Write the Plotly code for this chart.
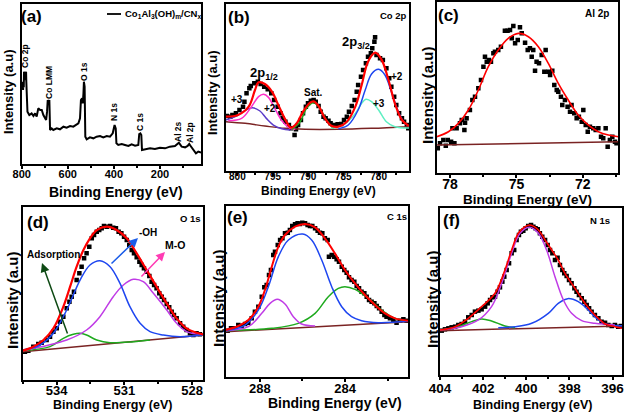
import plotly.graph_objects as go

W, H = 625, 414
FONT = "Liberation Sans"

# ---------------- (a) survey spectrum ----------------
survey_be = [800, 797, 796, 794, 793, 791, 790, 787, 784, 783, 781, 780, 778, 775, 767, 757, 749, 742, 735, 728,
             720, 713, 706, 699, 694, 690, 687, 683, 680, 677, 670, 663, 648, 634, 619, 605, 590, 576, 564, 554,
             547, 543, 538, 535, 532, 530, 527, 524, 518, 504, 489, 475, 460, 446, 431, 417, 405, 399, 397, 392,
             389, 381, 366, 352, 337, 323, 308, 294, 290, 285, 281, 278, 265, 243, 222, 200, 178, 157, 135, 125,
             118, 106, 91, 80, 73, 67, 55, 44, 34, 22]
survey_int = [237, 227, 247, 222, 242, 230, 277, 252, 267, 252, 277, 247, 172, 157, 147, 152, 144, 152, 142, 167,
              162, 162, 147, 137, 132, 157, 192, 182, 192, 102, 107, 102, 107, 104, 112, 109, 114, 112, 117, 122,
              137, 192, 197, 182, 212, 247, 232, 82, 74, 80, 77, 82, 84, 80, 84, 82, 92, 112, 117, 107,
              62, 57, 60, 57, 54, 59, 55, 57, 90, 92, 87, 42, 44, 47, 45, 49, 47, 52, 54, 60,
              64, 52, 50, 54, 60, 54, 44, 32, 37, 34]
survey_labels = ["Co 2p", "Co LMM", "O 1s", "N 1s", "C 1s", "Al 2s", "Al 2p"]

# ---------------- (b) Co 2p ----------------
co_pts_be = [801.5, 801.0, 800.7, 800.2, 799.7, 799.2, 799.0, 798.7, 798.3, 798.1, 797.6, 797.1, 796.7, 796.2,
             795.7, 795.2, 794.8, 794.3, 793.9, 793.6, 793.2, 792.7, 792.4, 791.9, 791.7, 791.4, 791.0, 790.7,
             790.3, 790.0, 789.6, 789.2, 788.9, 788.5, 788.2, 787.8, 787.5, 787.1, 786.8, 786.3, 785.8, 785.3,
             784.9, 784.5, 784.2, 783.8, 783.4, 783.1, 782.9, 782.5, 782.2, 781.8, 781.5, 781.1, 780.9, 780.6,
             780.5, 780.3, 779.8, 779.4, 778.9, 778.5, 778.2, 777.8, 777.5, 777.1, 776.7, 776.4, 776.0, 775.8]
co_pts_int = [164, 162, 167, 172, 182, 192, 207, 232, 247, 254, 262, 267, 260, 252, 244, 232, 212, 192, 172, 157,
              147, 137, 127, 107, 124, 137, 152, 172, 192, 202, 210, 212, 207, 194, 177, 162, 157, 150, 142, 137,
              139, 140, 152, 162, 177, 194, 212, 237, 257, 282, 302, 322, 342, 352, 367, 387, 400, 347, 337, 332,
              307, 277, 252, 222, 197, 172, 157, 147, 137, 127]
co_fit_be = [801.65, 799.9, 798.4, 797.5, 797.0, 796.1, 795.1, 794.2, 793.3, 792.4, 791.6, 790.7, 789.7, 789.2,
             788.5, 787.6, 786.7, 785.7, 784.5, 783.3, 782.4, 781.5, 780.5, 779.6, 778.6, 777.7, 776.7, 775.7]
co_fit_int = [162, 167, 192, 242, 265, 260, 237, 197, 157, 129, 142, 177, 204, 208, 194, 157, 135, 132, 147, 192,
              257, 327, 354, 334, 272, 202, 152, 134]
co_32p_be = [785.7, 784.3, 782.9, 781.9, 781.0, 780.0, 779.1, 778.2, 777.2, 776.3, 775.7]
co_32p_int = [126, 137, 182, 242, 290, 304, 287, 237, 177, 142, 134]
co_33p_be = [786.7, 784.8, 783.3, 782.4, 781.8, 781.0, 780.0, 778.9, 777.7, 775.7]
co_33p_int = [127, 140, 172, 202, 214, 207, 182, 147, 132, 128]
co_12p_be = [801.3, 799.4, 798.0, 797.0, 796.3, 795.6, 794.7, 793.7, 792.5, 791.8]
co_12p_int = [150, 157, 192, 222, 229, 220, 187, 150, 127, 124]
co_13p_be = [801.65, 800.3, 799.2, 797.9, 796.8, 795.9, 794.9, 793.7, 792.5]
co_13p_int = [152, 162, 177, 189, 179, 157, 137, 126, 122]
co_sat_be = [792.3, 791.1, 790.2, 789.2, 788.3, 787.4, 786.4]
co_sat_int = [124, 147, 187, 204, 187, 152, 126]
co_bg_be = [801.65, 798.9, 796.1, 793.3, 790.4, 785.7, 781.0, 775.7]
co_bg_int = [147, 142, 134, 127, 124, 124, 127, 132]

# ---------------- (c) Al 2p ----------------
al_pts_be = [78.55, 78.45, 78.30, 78.19, 78.10, 77.95, 77.80, 77.89, 77.70, 77.55, 77.47, 77.32, 77.35, 77.25,
             77.10, 76.99, 76.87, 76.72, 76.60, 76.49, 76.42, 76.34, 76.24, 76.15, 76.04, 75.97, 75.82, 75.70,
             75.52, 75.40, 75.29, 75.21, 75.14, 75.06, 74.94, 74.84, 74.76, 74.61, 74.49, 74.39, 74.31, 74.24,
             74.16, 74.09, 73.98, 73.86, 73.74, 73.68, 73.56, 73.48, 73.38, 73.29, 73.18, 73.11, 72.99, 72.93,
             72.81, 72.69, 72.58, 72.51, 72.39, 72.28, 72.18, 72.05, 71.98, 71.87, 71.78, 71.68, 71.53, 71.42,
             71.30, 71.18, 71.08, 70.97, 70.88, 70.78, 70.67, 70.55, 70.48]
al_pts_int = [73, 88, 98, 81, 98, 93, 88, 133, 133, 148, 158, 150, 128, 163, 188, 218, 228, 253, 278, 318,
              348, 333, 338, 333, 358, 363, 368, 378, 426, 426, 428, 403, 440, 388, 398, 436, 418, 390, 368, 373,
              348, 368, 306, 333, 328, 353, 303, 368, 303, 293, 306, 263, 248, 243, 228, 203, 218, 198, 183, 203,
              178, 163, 168, 153, 188, 143, 123, 138, 133, 128, 133, 108, 103, 133, 78, 98, 108, 93, 88]
al_fit_be = [78.60, 78.07, 77.62, 77.17, 76.72, 76.27, 75.82, 75.37, 74.91, 74.46, 74.01, 73.56, 73.11, 72.66,
             72.21, 71.75, 71.30, 70.85, 70.40]
al_fit_int = [108, 123, 148, 188, 248, 318, 368, 403, 418, 408, 378, 328, 268, 218, 173, 143, 123, 113, 108]
al_bg_be = [78.6, 70.4]
al_bg_int = [83, 93]

# ---------------- (d) O 1s ----------------
o_pts_be = [535.40, 535.25, 535.03, 534.81, 534.66, 534.44, 534.29, 534.14, 533.99, 533.85, 533.70, 533.55,
            533.43, 533.33, 533.23, 533.11, 532.99, 532.89, 532.78, 532.67, 532.55, 532.44, 532.34, 532.22,
            532.11, 532.00, 531.90, 531.78, 531.63, 531.49, 531.37, 531.25, 531.13, 531.01, 530.89, 530.78,
            530.67, 530.57, 530.45, 530.33, 530.23, 530.13, 530.01, 529.89, 529.79, 529.68, 529.57, 529.45,
            529.34, 529.24, 529.12, 529.01, 528.90, 528.80, 528.68, 528.53, 528.39, 528.24, 528.09, 527.94,
            527.80, 527.65]
o_pts_int = [85, 88, 100, 108, 112, 120, 130, 145, 155, 175, 190, 215, 235, 250, 265, 300, 320, 340, 365, 380,
             400, 425, 435, 445, 450, 455, 462, 460, 462, 457, 455, 445, 440, 430, 420, 405, 390, 380, 368, 355,
             345, 335, 325, 312, 295, 285, 275, 260, 250, 240, 228, 218, 205, 195, 185, 170, 160, 150, 140, 135,
             140, 137]
o_fit_be = [535.5, 535.03, 534.58, 534.14, 533.70, 533.40, 533.11, 532.81, 532.52, 532.22, 531.78, 531.34,
            530.89, 530.45, 530.01, 529.57, 529.12, 528.68, 528.24, 527.80, 527.50]
o_fit_int = [88, 100, 120, 155, 220, 280, 340, 390, 425, 450, 460, 450, 425, 380, 330, 280, 230, 185, 155, 142, 137]
o_oh_be = [535.5, 534.73, 534.14, 533.55, 532.96, 532.52, 532.08, 531.63, 531.19, 530.75, 530.30, 529.86,
           529.27, 528.53, 527.50]
o_oh_int = [90, 105, 140, 210, 300, 345, 358, 340, 290, 220, 170, 145, 135, 130, 136]
o_mo_be = [535.5, 533.55, 532.67, 532.08, 531.49, 531.04, 530.60, 530.16, 529.71, 529.12, 528.68, 528.24, 527.50]
o_mo_int = [88, 120, 150, 190, 250, 285, 302, 295, 260, 210, 170, 145, 136]
o_ads_be = [535.5, 534.29, 533.70, 533.26, 532.96, 532.67, 532.22, 531.63, 530.60, 529.86]
o_ads_int = [88, 100, 125, 137, 140, 135, 120, 112, 115, 120]
o_bg_be = [535.5, 527.5]
o_bg_int = [85, 135]

# ---------------- (e) C 1s ----------------
c_pts_be = [289.51, 289.35, 289.16, 289.01, 288.85, 288.69, 288.54, 288.38, 288.23, 288.07, 287.91, 287.79,
            287.68, 287.57, 287.48, 287.37, 287.29, 287.16, 287.05, 286.94, 286.82, 286.69, 286.59, 286.48,
            286.35, 286.23, 286.12, 286.01, 285.88, 285.76, 285.65, 285.54, 285.41, 285.29, 285.18, 285.07,
            284.95, 284.82, 284.76, 284.63, 284.51, 284.40, 284.29, 284.16, 284.04, 283.93, 283.82, 283.70,
            283.57, 283.46, 283.35, 283.23, 283.10, 282.99, 282.88, 282.76, 282.63, 282.52, 282.41, 282.29,
            282.16, 282.06, 281.90, 281.74, 281.59, 281.43, 281.27, 281.12]
c_pts_int = [138, 145, 145, 155, 152, 158, 162, 175, 195, 210, 240, 268, 275, 305, 320, 365, 375, 395, 410, 415,
             430, 432, 440, 452, 457, 460, 458, 462, 460, 455, 452, 452, 445, 438, 432, 430, 415, 410, 360, 365,
             360, 352, 345, 330, 320, 312, 298, 290, 285, 272, 265, 255, 250, 240, 230, 225, 220, 212, 205, 195,
             185, 180, 175, 170, 162, 168, 172, 168]
c_fit_be = [289.60, 289.01, 288.54, 288.07, 287.76, 287.44, 287.13, 286.82, 286.35, 285.88, 285.41, 284.95,
            284.48, 284.01, 283.54, 283.07, 282.60, 282.13, 281.66, 281.04]
c_fit_int = [140, 152, 170, 210, 260, 330, 390, 425, 450, 458, 448, 415, 370, 320, 280, 245, 215, 190, 175, 168]
c_p1_be = [289.60, 288.69, 288.07, 287.60, 287.13, 286.66, 285.99, 285.57, 285.10, 284.63, 284.16, 283.70,
           283.23, 282.45, 281.04]
c_p1_int = [138, 155, 200, 270, 360, 410, 428, 410, 350, 270, 210, 180, 168, 162, 166]
c_p2_be = [289.60, 288.54, 287.91, 287.52, 287.18, 286.82, 286.43, 286.04, 285.41]
c_p2_int = [138, 150, 190, 220, 232, 218, 180, 158, 152]
c_p3_be = [289.60, 287.44, 286.20, 285.41, 284.79, 284.32, 284.01, 283.54, 282.91, 282.29, 281.66, 281.04]
c_p3_int = [138, 145, 160, 190, 240, 265, 270, 262, 235, 200, 175, 167]
c_bg_be = [289.6, 281.04]
c_bg_int = [135, 165]

# ---------------- (f) N 1s ----------------
n_pts_be = [403.92, 403.77, 403.61, 403.46, 403.30, 403.15, 403.00, 402.84, 402.69, 402.53, 402.38, 402.22,
            402.07, 401.91, 401.79, 401.68, 401.57, 401.45, 401.33, 401.22, 401.11, 401.02, 400.91, 400.80,
            400.68, 400.56, 400.45, 400.34, 400.25, 400.14, 400.03, 399.91, 399.78, 399.67, 399.57, 399.47,
            399.37, 399.26, 399.13, 399.01, 398.90, 398.79, 398.67, 398.55, 398.44, 398.33, 398.24, 398.13,
            398.02, 397.90, 397.77, 397.67, 397.56, 397.43, 397.31, 397.20, 397.09, 396.97, 396.82, 396.66,
            396.51, 396.35, 396.20, 396.04, 395.89, 395.74, 395.61]
n_pts_int = [133, 137, 140, 143, 145, 150, 153, 160, 173, 180, 190, 193, 197, 205, 215, 225, 233, 235, 250, 263,
             280, 295, 315, 335, 365, 375, 405, 420, 430, 433, 440, 447, 450, 445, 440, 437, 425, 415, 405, 390,
             375, 365, 345, 352, 330, 315, 305, 297, 285, 275, 260, 250, 240, 230, 220, 210, 200, 190, 180, 170,
             160, 157, 150, 147, 150, 145, 147]
n_fit_be = [404.00, 403.30, 402.69, 402.07, 401.45, 400.99, 400.68, 400.37, 400.06, 399.83, 399.44, 399.13,
            398.82, 398.52, 398.21, 397.90, 397.59, 397.28, 396.97, 396.66, 396.35, 395.89, 395.55]
n_fit_int = [135, 145, 170, 205, 245, 315, 375, 425, 445, 450, 435, 405, 375, 345, 305, 275, 245, 215, 190, 170,
             153, 145, 140]
n_p1_be = [404.00, 403.00, 402.22, 401.61, 401.14, 400.68, 400.29, 399.86, 399.44, 399.06, 398.67, 398.28,
           397.90, 397.43, 396.82, 395.89]
n_p1_int = [135, 145, 165, 205, 275, 365, 425, 443, 425, 375, 295, 225, 185, 163, 155, 150]
n_p2_be = [401.30, 400.52, 399.75, 398.98, 398.52, 398.08, 397.59, 397.13, 396.66, 396.20, 395.55]
n_p2_int = [142, 145, 155, 185, 215, 229, 220, 195, 165, 150, 148]
n_p3_be = [404.00, 403.15, 402.53, 402.07, 401.61, 400.99, 400.52]
n_p3_int = [135, 145, 160, 168, 162, 147, 142]
n_bg_be = [404.0, 395.55]
n_bg_int = [133, 147]

# ---------------- styling ----------------
RED = "#FF0000"
BLUE = "#1E46F0"
GREEN = "#1FAA1F"
MAG = "#C03CE6"
PINK = "#FF30C8"
PURPLE = "#5A3CC8"
AQUA = "#5FEFC2"
BASE = "#7A2323"

def px(x):
    return x / W

def py(y):
    return 1 - y / H

panels = [
    # box: left, top, right, bottom (pixels)
    dict(box=(21.7, 4, 201, 164), xr=[800, 22], yr=[0, 480], dt=200, mdt=100, tfs=11, so=-4),
    dict(box=(225.7, 4, 409, 170.7), xr=[801.65, 775.7], yr=[0, 500], dt=5, mdt=2.5, tfs=10, so=-8),
    dict(box=(436.7, 1.7, 618.3, 172.7), xr=[78.6, 70.4], yr=[0, 513], dt=3, mdt=1.5, tfs=14, so=-6),
    dict(box=(22.7, 206.7, 203.3, 380), xr=[535.5, 527.5], yr=[0, 520], dt=3, mdt=1.5, tfs=13, so=-6),
    dict(box=(225.7, 206, 408.3, 376.7), xr=[289.6, 281.04], yr=[0, 512], dt=4, mdt=2, tfs=13, so=-4),
    dict(box=(440, 208.3, 622.3, 375), xr=[404.0, 395.55], yr=[0, 500], dt=2, mdt=1, tfs=13.5, so=-3),
]

fig = go.Figure()
layout = dict(width=W, height=H, margin=dict(l=0, r=0, t=0, b=0, autoexpand=False), paper_bgcolor="white",
              plot_bgcolor="white", showlegend=False)

for i, p in enumerate(panels):
    n = "" if i == 0 else str(i + 1)
    l, t, r, b = p["box"]
    layout["xaxis" + n] = dict(
        domain=[px(l), px(r)], range=p["xr"], autorange=False, anchor="y" + n,
        showline=True, linecolor="black", linewidth=2, mirror=True,
        showgrid=False, zeroline=False, ticks="outside", ticklen=3, tickwidth=1.5,
        tickcolor="black", dtick=p["dt"], tick0=0, ticklabelstandoff=p["so"],
        tickfont=dict(family=FONT, size=p["tfs"], color="black", weight="bold"),
        minor=dict(dtick=p["mdt"], tick0=0, ticks="outside", ticklen=2, tickwidth=1.5, tickcolor="black"),
        fixedrange=True,
    )
    layout["yaxis" + n] = dict(
        domain=[py(b), py(t)], range=p["yr"], autorange=False, anchor="x" + n,
        showline=True, linecolor="black", linewidth=2, mirror=True,
        showgrid=False, zeroline=False, showticklabels=False, ticks="", fixedrange=True,
    )

def axes(i):
    n = "" if i == 0 else str(i + 1)
    return "x" + n, "y" + n

def line(i, x, y, color, width=1.5, spline=True):
    xa, ya = axes(i)
    fig.add_trace(go.Scatter(x=x, y=y, mode="lines", xaxis=xa, yaxis=ya, hoverinfo="skip",
                             line=dict(color=color, width=width,
                                       shape="spline" if spline else "linear", smoothing=1.0)))

def points(i, x, y, size=4.5):
    xa, ya = axes(i)
    fig.add_trace(go.Scatter(x=x, y=y, mode="markers", xaxis=xa, yaxis=ya, hoverinfo="skip",
                             marker=dict(symbol="square", size=size, color="black", line=dict(width=0))))

# (a)
line(0, survey_be, survey_int, "black", 2.0, spline=False)
# (b)
points(1, co_pts_be, co_pts_int)
line(1, co_bg_be, co_bg_int, BASE, 1.5)
line(1, co_13p_be, co_13p_int, PURPLE, 1.5)
line(1, co_12p_be, co_12p_int, PINK, 1.5)
line(1, co_sat_be, co_sat_int, GREEN, 1.5)
line(1, co_33p_be, co_33p_int, AQUA, 1.5)
line(1, co_32p_be, co_32p_int, BLUE, 1.5)
line(1, co_fit_be, co_fit_int, RED, 2.2)
# (c)
points(2, al_pts_be, al_pts_int)
line(2, al_bg_be, al_bg_int, BASE, 1.5, spline=False)
line(2, al_fit_be, al_fit_int, RED, 1.6)
# (d)
points(3, o_pts_be, o_pts_int)
line(3, o_bg_be, o_bg_int, BASE, 1.5, spline=False)
line(3, o_ads_be, o_ads_int, GREEN, 1.5)
line(3, o_mo_be, o_mo_int, MAG, 1.5)
line(3, o_oh_be, o_oh_int, BLUE, 1.5)
line(3, o_fit_be, o_fit_int, RED, 2.2)
# (e)
points(4, c_pts_be, c_pts_int)
line(4, c_bg_be, c_bg_int, BASE, 1.5, spline=False)
line(4, c_p3_be, c_p3_int, GREEN, 1.5)
line(4, c_p2_be, c_p2_int, MAG, 1.5)
line(4, c_p1_be, c_p1_int, BLUE, 1.5)
line(4, c_fit_be, c_fit_int, RED, 2.0)
# (f)
points(5, n_pts_be, n_pts_int)
line(5, n_bg_be, n_bg_int, BASE, 1.5, spline=False)
line(5, n_p3_be, n_p3_int, GREEN, 1.5)
line(5, n_p2_be, n_p2_int, BLUE, 1.5)
line(5, n_p1_be, n_p1_int, MAG, 1.5)
line(5, n_fit_be, n_fit_int, RED, 1.6)

ann = []

def text(x, y, s, size, angle=0, color="black", xanchor="center"):
    ann.append(dict(x=px(x), y=py(y), xref="paper", yref="paper", text=s, showarrow=False,
                    textangle=angle, xanchor=xanchor, yanchor="middle",
                    font=dict(family=FONT, size=size, color=color, weight="bold")))

# panel letters
for (x, y), s in zip([(31, 17), (239, 17.5), (448, 16), (38, 223), (237, 217), (452, 220)],
                     ["(a)", "(b)", "(c)", "(d)", "(e)", "(f)"]):
    text(x, y, s, 17)

# axis titles
for (x, y), fs in zip([(116, 192), (318, 191), (527, 199), (112, 405), (335, 403), (532, 405)],
                      [14, 12, 13.5, 12.5, 14, 12.5]):
    text(x, y, "Binding Energy (eV)", fs)
for (x, y), fs in zip([(8, 92), (212, 93), (427, 95), (12, 300), (218, 298), (432, 299)],
                      [13, 13, 15, 15, 15, 15]):
    text(x, y, "Intensity (a.u)", fs, angle=-90)

# (a) peak labels
for (x, y), s in zip([(25, 56), (49, 83), (84, 72), (114, 112), (140, 122), (178, 132), (190, 133)],
                     survey_labels):
    text(x, y, s, 8.5, angle=-90)
# (a) legend
text(123, 14, "Co<sub>1</sub>Al<sub>3</sub>(OH)<sub>m</sub>/CN<sub>x</sub>", 9.5, xanchor="left")

# (b) labels
text(393, 15, "Co 2p", 9.5)
text(264, 73, "2p<sub>1/2</sub>", 13)
text(356, 42, "2p<sub>3/2</sub>", 13)
text(237, 100, "+3", 10)
text(270, 108, "+2", 10)
text(313, 92, "Sat.", 10)
text(397, 77, "+2", 10)
text(379, 103, "+3", 10)
# (c)
text(597, 13, "Al 2p", 10)
# (d)
text(190, 218, "O 1s", 9.5)
text(53, 255, "Adsorption", 10)
text(148, 233, "-OH", 10)
text(175, 245, "M-O", 10.5)
# (e)
text(397, 216, "C 1s", 9.5)
# (f)
text(600, 220, "N 1s", 9.5)

# (d) arrows: tip (x, y), tail (tx, ty) in pixels
for (x, y, tx, ty, c) in [(42, 263, 68, 335, "#0E4A14"), (138, 238, 110, 265, "#1A5CE8"),
                          (165, 252, 140, 278, "#FF3CB4")]:
    ann.append(dict(x=px(x), y=py(y), xref="paper", yref="paper", text="", showarrow=True,
                    ax=tx - x, ay=ty - y, arrowhead=2, arrowsize=1.2, arrowwidth=1.5,
                    arrowcolor=c, standoff=0, startstandoff=0))

layout["annotations"] = ann
layout["shapes"] = [dict(type="line", xref="paper", yref="paper", x0=px(107), x1=px(121),
                         y0=py(14), y1=py(14), line=dict(color="black", width=1.8))]

fig.update_layout(**layout)
fig.write_html("out.html")
